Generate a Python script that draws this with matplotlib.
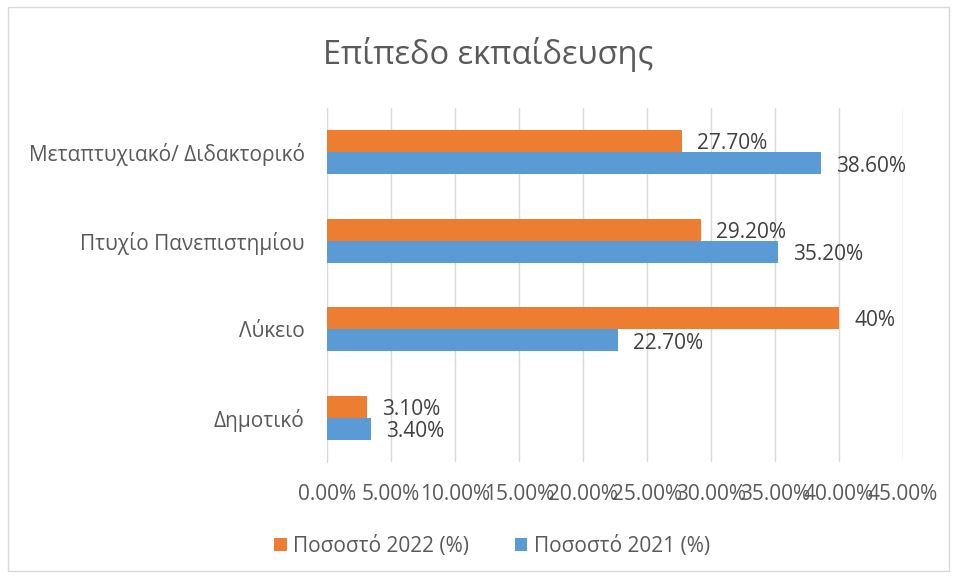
import numpy as np
import matplotlib.pyplot as plt
from matplotlib.patches import Rectangle

# Δεδομένα
categories = ['Δημοτικό', 'Λύκειο', 'Πτυχίο Πανεπιστημίου', 'Μεταπτυχιακό/ Διδακτορικό']
pct_2022 = [3.1, 40.0, 29.2, 27.7]
pct_2021 = [3.4, 22.7, 35.2, 38.6]
labels_2022 = ['3.10%', '40%', '29.20%', '27.70%']
labels_2021 = ['3.40%', '22.70%', '35.20%', '38.60%']
xticks = np.arange(0, 46, 5)

ORANGE = '#ED7D31'
BLUE = '#5B9BD5'
TXT = '#595959'
GRID = '#D9D9D9'

plt.rcParams['font.family'] = ['Open Sans', 'DejaVu Sans']

fig = plt.figure(figsize=(9.57, 5.78), dpi=100)
ax = fig.add_axes([0.3417, 0.2007, 0.6019, 0.6125])

y = np.arange(len(categories))
h = 0.25
b22 = ax.barh(y + h / 2, pct_2022, height=h, color=ORANGE, label='Ποσοστό 2022 (%)', zorder=3)
b21 = ax.barh(y - h / 2, pct_2021, height=h, color=BLUE, label='Ποσοστό 2021 (%)', zorder=3)

# ετικέτες τιμών
for bars, labs in ((b22, labels_2022), (b21, labels_2021)):
    for bar, lab in zip(bars, labs):
        ax.annotate(lab, (bar.get_width(), bar.get_y() + bar.get_height() / 2),
                    xytext=(11, -2), textcoords='offset points', va='center', ha='left',
                    fontsize=15, color='#404040')

ax.set_xlim(0, 45)
ax.set_ylim(-0.5, len(categories) - 0.5)
ax.set_xticks(xticks)
ax.set_xticklabels([f'{v:.2f}%' for v in xticks], fontsize=15, color=TXT)
ax.set_yticks(y)
ax.set_yticklabels(categories, fontsize=15, color=TXT)
ax.tick_params(axis='both', length=0)
ax.tick_params(axis='y', pad=16)
ax.tick_params(axis='x', pad=16)
ax.grid(axis='x', color=GRID, linewidth=1, zorder=0)
for s in ('top', 'right', 'bottom'):
    ax.spines[s].set_visible(False)
ax.spines['left'].set_color(GRID)

fig.text(0.51, 0.905, 'Επίπεδο εκπαίδευσης', ha='center', va='center', fontsize=23.5, color=TXT)

fig.legend(handles=[b22, b21], loc='center', bbox_to_anchor=(0.514, 0.055), ncol=2,
           frameon=False, fontsize=15, labelcolor=TXT, handlelength=0.6, handleheight=0.6,
           columnspacing=2.2, handletextpad=0.3)

fig.patches.append(Rectangle((0.008, 0.012), 0.984, 0.976, transform=fig.transFigure,
                             fill=False, edgecolor=GRID, linewidth=1))

fig.savefig('out.png', dpi=100)
